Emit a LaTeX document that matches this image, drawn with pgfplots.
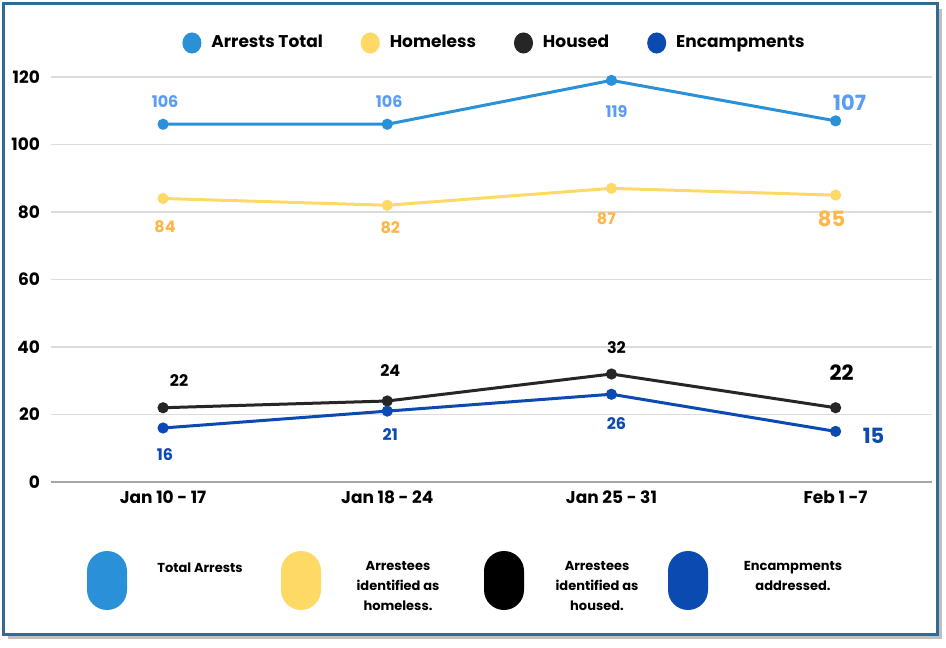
\documentclass[border=0pt]{standalone}
\usepackage{fontspec}
\setmainfont{Poppins}
\usepackage{pgfplots}
\pgfplotsset{compat=1.18}

\definecolor{frameblue}{HTML}{2E6C90}
\definecolor{totline}{HTML}{2A90D8}
\definecolor{totlab}{HTML}{5B9CF6}
\definecolor{homeline}{HTML}{FFD966}
\definecolor{homelab}{HTML}{FFB547}
\definecolor{houseline}{HTML}{262626}
\definecolor{encline}{HTML}{0B4AB0}
\definecolor{gridgray}{HTML}{DCDCDC}

\begin{document}
\begin{tikzpicture}[x=0.5pt,y=0.5pt]
\path[use as bounding box] (0,0) rectangle (946,647);
% frame with shadow
\fill[black!25] (8,8) rectangle (942,638);
\fill[white] (3,13) rectangle (937,643);
\draw[frameblue, line width=1.5pt] (3,13) rectangle (937,643);

\begin{axis}[
    at={(25.5pt,82.5pt)}, anchor=south west,
    scale only axis, width=440.5pt, height=202.5pt,
    xmin=-0.5, xmax=3.43, ymin=0, ymax=120,
    axis line style={draw=none},
    major tick length=0pt,
    ytick={20,40,...,120},
    extra y ticks={0},
    extra y tick style={grid style={black!35, line width=0.8pt}},
    ymajorgrids,
    grid style={gridgray, line width=0.6pt},
    xtick={0,1,2,3},
    xticklabels={Jan 10 - 17, Jan 18 - 24, Jan 25 - 31, Feb 1 -7},
    ticklabel style={font=\fontsize{8.5}{10}\selectfont\bfseries},
    /pgf/number format/assume math mode=true,
    yticklabel style={xshift=-2pt},
    xticklabel style={yshift=-1pt},
    clip=false,
    legend columns=4,
    legend style={draw=none, at={(0.5,1)}, anchor=center, yshift=17pt, xshift=2pt,
        font=\fontsize{8.5}{10}\selectfont\bfseries,
        /tikz/every odd column/.append style={column sep=3pt},
        /tikz/every even column/.append style={column sep=17pt}},
    legend image code/.code={\fill[#1] (2pt,0pt) ellipse (4pt and 4.5pt);},
    every axis plot/.append style={line width=1.5pt, mark=*, mark size=2pt},
]
\addplot[color=totline] coordinates {(0,106) (1,106) (2,119) (3,107)};
\addlegendentry{Arrests Total}
\addplot[color=homeline] coordinates {(0,84) (1,82) (2,87) (3,85)};
\addlegendentry{Homeless}
\addplot[color=houseline] coordinates {(0,22) (1,24) (2,32) (3,22)};
\addlegendentry{Housed}
\addplot[color=encline] coordinates {(0,16) (1,21) (2,26) (3,15)};
\addlegendentry{Encampments}

% data labels
\tikzset{lab/.style={font=\fontsize{8}{9}\selectfont\bfseries},
         big/.style={font=\fontsize{10.5}{12}\selectfont\bfseries}}
\node[lab, totlab] at (axis cs:0,106) [xshift=1pt, yshift=11.5pt] {106};
\node[lab, totlab] at (axis cs:1,106) [xshift=1pt, yshift=11.5pt] {106};
\node[lab, totlab] at (axis cs:2,119) [xshift=2.5pt, yshift=-15.8pt] {119};
\node[big, totlab] at (axis cs:3,107) [xshift=7pt, yshift=9pt] {107};

\node[lab, homelab] at (axis cs:0,84) [xshift=1pt, yshift=-14pt] {84};
\node[lab, homelab] at (axis cs:1,82) [xshift=1.5pt, yshift=-11pt] {82};
\node[lab, homelab] at (axis cs:2,87) [xshift=-2.5pt, yshift=-15pt] {87};
\node[big, homelab] at (axis cs:3,85) [xshift=-2pt, yshift=-12pt] {85};

\node[lab, black] at (axis cs:0,22) [xshift=8pt, yshift=13.5pt] {22};
\node[lab, black] at (axis cs:1,24) [xshift=1.5pt, yshift=15pt] {24};
\node[lab, black] at (axis cs:2,32) [xshift=2.5pt, yshift=13pt] {32};
\node[big, black] at (axis cs:3,22) [xshift=3pt, yshift=17.5pt] {22};

\node[lab, encline] at (axis cs:0,16) [xshift=1pt, yshift=-13.5pt] {16};
\node[lab, encline] at (axis cs:1,21) [xshift=1.5pt, yshift=-11.5pt] {21};
\node[lab, encline] at (axis cs:2,26) [xshift=2.5pt, yshift=-14.5pt] {26};
\node[big, encline] at (axis cs:3,15) [xshift=19pt, yshift=-2pt] {15};
\end{axis}

% bottom key
\tikzset{key/.style={font=\fontsize{6.5}{10}\selectfont\bfseries, align=center, inner sep=0pt}}
\fill[totline, rounded corners=10pt] (87,37) rectangle (127,96);
\fill[homeline, rounded corners=10pt] (281,37) rectangle (321,96);
\fill[black, rounded corners=10pt] (484,37) rectangle (524,96);
\fill[encline, rounded corners=10pt] (668,37) rectangle (708,96);
\node[key, anchor=north west] at (157,85) {Total Arrests};
\node[key, anchor=north] at (398,86) {Arrestees\\identified as\\homeless.};
\node[key, anchor=north] at (597,86) {Arrestees\\identified as\\housed.};
\node[key, anchor=north] at (793,86) {Encampments\\addressed.};
\end{tikzpicture}
\end{document}
